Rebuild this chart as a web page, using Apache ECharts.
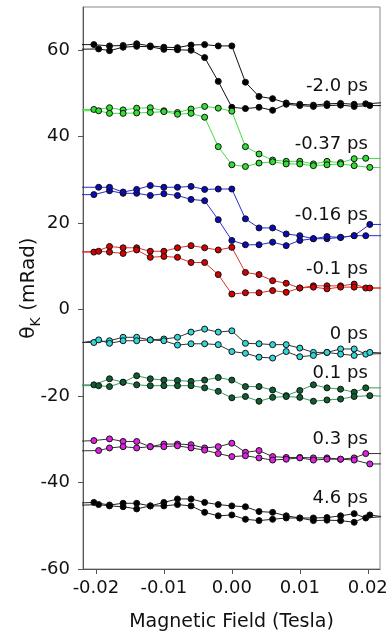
<!DOCTYPE html>
<html>
<head>
<meta charset="utf-8">
<script src="https://cdn.jsdelivr.net/npm/echarts@6/dist/echarts.min.js"></script>
<style>
  html, body { margin: 0; padding: 0; background: #fff; }
  #chart { width: 388px; height: 643px; }
</style>
</head>
<body>
<div id="chart"></div>
<script>
// magnetic field of the two sweep branches (Tesla)
const fieldA = [-0.0203, -0.018, -0.016, -0.014, -0.012, -0.010, -0.008, -0.006, -0.004, -0.002, 0.000,
                0.002, 0.004, 0.006, 0.008, 0.010, 0.012, 0.014, 0.016, 0.018, 0.0197];
const fieldB = [-0.0196, -0.018, -0.016, -0.014, -0.012, -0.010, -0.008, -0.006, -0.004, -0.002, 0.000,
                0.002, 0.004, 0.006, 0.008, 0.010, 0.012, 0.014, 0.016, 0.018, 0.0203];
// lines run on past the frame, to these fields
const edgeField = [-0.0235, 0.0235];

const delays = ['-2.0 ps', '-0.37 ps', '-0.16 ps', '-0.1 ps', '0 ps', '0.1 ps', '0.3 ps', '4.6 ps'];
const labelY = [51.6, 38.2, 21.8, 9.3, -5.8, -14.8, -30.1, -43.7];

// Kerr rotation (mRad), two branches per delay
const kerr_m2p0_a = [61.3, 61.0, 61.1, 61.5, 61.0, 60.7, 60.6, 61.2, 61.3, 61.0, 61.0, 52.6, 49.3, 48.8, 47.8, 47.5, 47.3, 47.6, 47.7, 47.5, 47.6];
const kerr_m2p0_b = [60.3, 59.9, 60.7, 60.9, 60.8, 60.2, 60.1, 60.0, 58.3, 52.8, 46.8, 46.5, 46.8, 46.1, 47.5, 47.2, 47.0, 47.2, 47.3, 47.0, 47.2];
const kerr_m037_a = [46.3, 46.7, 46.2, 46.6, 46.7, 46.0, 45.6, 46.4, 47.0, 46.6, 45.9, 37.7, 36.0, 34.6, 34.3, 34.3, 33.7, 34.3, 34.0, 34.9, 35.0];
const kerr_m037_b = [46.0, 45.4, 45.4, 45.5, 45.6, 45.8, 45.2, 45.4, 44.5, 37.7, 33.5, 33.1, 33.9, 34.2, 33.7, 33.7, 33.3, 33.5, 33.7, 33.3, 32.9];
const kerr_m016_a = [26.6, 27.5, 26.9, 26.9, 26.4, 26.8, 26.4, 25.5, 25.2, 20.8, 16.0, 15.0, 15.0, 15.6, 14.8, 16.0, 16.4, 16.4, 16.7, 17.1, 17.1];
const kerr_m016_b = [28.3, 28.3, 27.2, 27.8, 28.7, 28.3, 28.3, 28.5, 27.8, 27.9, 27.9, 21.0, 18.9, 18.9, 17.5, 17.1, 16.4, 16.9, 16.7, 17.1, 19.7];
const kerr_m01_a = [13.3, 14.6, 14.3, 14.3, 13.5, 13.5, 14.3, 14.8, 14.3, 13.8, 14.4, 8.6, 8.1, 6.7, 6.1, 5.0, 5.5, 5.5, 5.5, 5.9, 5.0];
const kerr_m01_b = [13.5, 13.3, 13.0, 13.8, 12.1, 12.3, 12.1, 10.9, 10.9, 8.1, 3.6, 3.9, 3.9, 4.4, 4.0, 5.0, 5.2, 4.8, 5.2, 5.2, 5.0];
const kerr_0_a = [-7.6, -7.2, -6.4, -6.4, -7.0, -6.8, -6.4, -5.2, -4.5, -5.2, -4.9, -7.8, -7.9, -8.1, -8.1, -8.9, -9.9, -9.9, -9.1, -9.1, -10.3];
const kerr_0_b = [-7.0, -7.8, -7.2, -7.2, -7.0, -7.2, -8.2, -7.9, -7.9, -8.1, -9.7, -10.1, -11.0, -11.2, -9.7, -10.9, -10.6, -9.9, -10.3, -10.6, -9.9];
const kerr_p01_a = [-17.4, -16.0, -16.8, -15.3, -16.0, -16.3, -16.4, -16.6, -16.3, -15.7, -16.3, -17.8, -17.8, -18.6, -19.9, -18.7, -17.4, -18.1, -18.4, -19.1, -18.1];
const kerr_p01_b = [-17.6, -17.8, -16.8, -17.4, -17.6, -17.6, -17.6, -17.6, -18.1, -18.9, -20.4, -20.1, -21.2, -20.3, -20.1, -20.3, -21.2, -20.9, -20.7, -20.1, -19.9];
const kerr_p03_a = [-30.3, -29.9, -30.5, -30.5, -31.7, -31.1, -31.1, -31.25, -32.0, -31.7, -30.9, -33.0, -32.6, -34.0, -34.2, -34.2, -34.3, -34.3, -34.6, -34.3, -33.3];
const kerr_p03_b = [-32.6, -32.0, -31.7, -32.0, -31.7, -31.7, -31.5, -32.0, -32.5, -33.3, -34.0, -33.8, -34.3, -34.8, -34.6, -34.3, -34.8, -34.6, -34.6, -34.8, -35.7];
const kerr_p46_a = [-44.6, -45.2, -44.8, -44.8, -45.4, -44.6, -43.8, -43.8, -44.6, -45.1, -45.4, -45.6, -46.7, -46.9, -47.7, -48.2, -48.2, -48.1, -47.7, -47.2, -48.2];
const kerr_p46_b = [-45.1, -45.4, -45.6, -46.1, -45.4, -45.4, -45.1, -45.4, -46.9, -47.7, -47.5, -48.5, -48.8, -48.5, -48.2, -48.2, -48.8, -48.7, -48.8, -49.2, -47.5];

// where each line meets the left / right frame
const edgeA = [[61.3, 48.0], [46.3, 34.9], [26.6, 17.1], [13.3, 5.0], [-7.6, -10.1], [-17.4, -18.1], [-30.5, -33.3], [-44.8, -47.7]];
const edgeB = [[60.2, 47.2], [46.0, 32.8], [28.3, 19.7], [13.3, 5.0], [-8.0, -10.1], [-17.6, -20.1], [-32.7, -35.7], [-45.3, -48.2]];

const branchA = [kerr_m2p0_a, kerr_m037_a, kerr_m016_a, kerr_m01_a, kerr_0_a, kerr_p01_a, kerr_p03_a, kerr_p46_a];
const branchB = [kerr_m2p0_b, kerr_m037_b, kerr_m016_b, kerr_m01_b, kerr_0_b, kerr_p01_b, kerr_p03_b, kerr_p46_b];

const markerColors = ['#000000', '#33dd33', '#0a0ab8', '#d40000', '#33d6d6', '#0f5e30', '#e020e0', '#000000'];
const lineColors = ['#111111', '#44dd44', '#2a2ad0', '#e03030', '#333333', '#3a9a60', '#333333', '#222222'];

const FONT = 'DejaVu Sans';

function branchData(field, values, edges) {
    const pts = [{ value: [edgeField[0], edges[0]], symbol: 'none' }];
    values.forEach((v, i) => pts.push([field[i], v]));
    pts.push({ value: [edgeField[1], edges[1]], symbol: 'none' });
    return pts;
}

const series = [];
delays.forEach((name, i) => {
    const base = {
        type: 'line',
        symbol: 'circle',
        symbolSize: 6,
        clip: true,
        lineStyle: { color: lineColors[i], width: 1 },
        itemStyle: { color: markerColors[i], borderColor: '#111', borderWidth: 1 },
        emphasis: { disabled: true },
        z: 2
    };
    series.push(Object.assign({}, base, {
        name: name + ' a',
        data: branchData(fieldA, branchA[i], edgeA[i]),
        markPoint: {
            symbol: 'circle',
            symbolSize: 0,
            silent: true,
            label: {
                show: true, position: 'left', distance: 0, formatter: '{b}',
                fontFamily: FONT, fontSize: 18, color: '#111'
            },
            data: [{ name: name, coord: [0.0200, labelY[i]] }]
        }
    }));
    series.push(Object.assign({}, base, {
        name: name + ' b',
        data: branchData(fieldB, branchB[i], edgeB[i])
    }));
});

const chart = echarts.init(document.getElementById('chart'));
chart.setOption({
    animation: false,
    backgroundColor: '#fff',
    grid: {
        left: 83, right: 8, top: 7, bottom: 74,
        show: true, borderColor: '#888', borderWidth: 1,
        outerBoundsMode: 'none'
    },
    xAxis: {
        type: 'value',
        min: -0.0219,
        max: 0.0218,
        name: 'Magnetic Field (Tesla)',
        nameLocation: 'middle',
        nameGap: 44,
        nameMoveOverlap: false,
        nameTextStyle: { fontFamily: FONT, fontSize: 19, color: '#111' },
        axisLine: { show: true, onZero: false, lineStyle: { color: '#555' } },
        axisTick: { show: true, length: 5, lineStyle: { color: '#555' }, customValues: [-0.02, -0.01, 0, 0.01, 0.02] },
        axisLabel: {
            margin: 10, fontFamily: FONT, fontSize: 18, color: '#111',
            customValues: [-0.02, -0.01, 0, 0.01, 0.02],
            formatter: v => v.toFixed(2)
        },
        splitLine: { show: false }
    },
    yAxis: {
        type: 'value',
        min: -60,
        max: 70,
        interval: 20,
        name: '{t|θ}{s|K}{t| (mRad)}',
        nameLocation: 'middle',
        nameGap: 40,
        nameMoveOverlap: false,
        nameTextStyle: {
            rich: {
                t: { fontFamily: FONT, fontSize: 20, lineHeight: 28, color: '#111', verticalAlign: 'middle' },
                s: { fontFamily: FONT, fontSize: 14, lineHeight: 14, color: '#111', verticalAlign: 'bottom' }
            }
        },
        axisLine: { show: true, onZero: false, lineStyle: { color: '#555' } },
        axisTick: { show: true, length: 5, lineStyle: { color: '#555' } },
        axisLabel: { margin: 13, fontFamily: FONT, fontSize: 18, color: '#111', showMaxLabel: false },
        splitLine: { show: false }
    },
    series: series
});
</script>
</body>
</html>
